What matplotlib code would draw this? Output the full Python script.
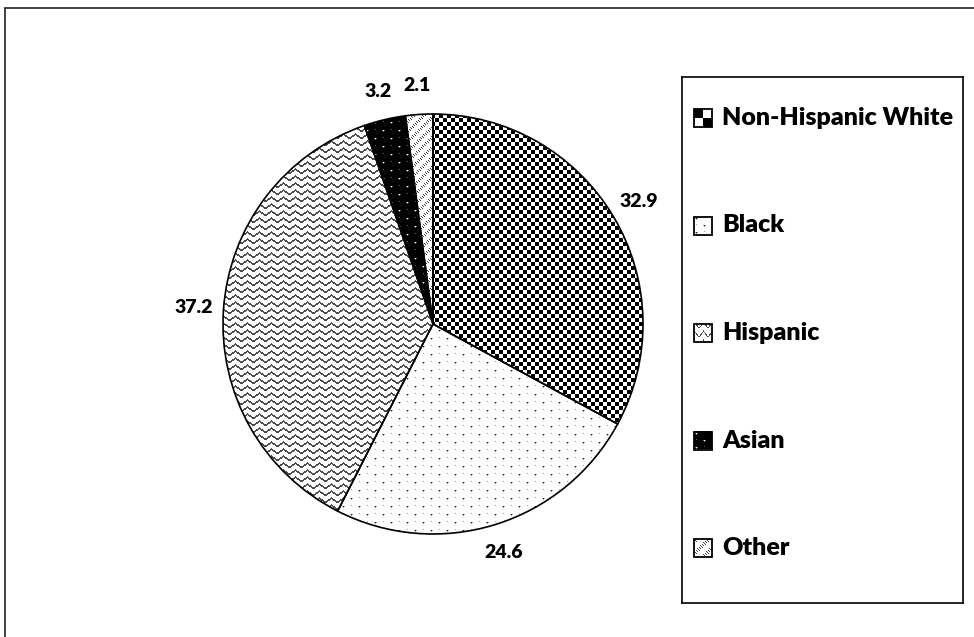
import numpy as np
import matplotlib.pyplot as plt
from matplotlib.patches import Rectangle

labels = ['Non-Hispanic White', 'Black', 'Hispanic', 'Asian', 'Other']
values = [32.9, 24.6, 37.2, 3.2, 2.1]
value_text = ['32.9', '24.6', '37.2', '3.2', '2.1']

plt.rcParams['font.family'] = ['Lato', 'DejaVu Sans']


# fill patterns, 1 = white, 0 = black, in pixel units
def checker(X, Y, c=4):
    return np.where(((X // c + Y // c) % 2) == 0, 0.0, 1.0)

def dots(X, Y, sx=16, sy=8, bg=1.0, fg=0.1, o=0):
    X = X - o
    Y = Y - o
    row = Y // sy
    off = (row % 2) * (sx // 2)
    dx = (X - off) % sx
    dy = Y % sy
    out = np.full(X.shape, bg)
    near = ((dx == 0) & ((dy == 1) | (dy == sy - 1))) | ((dy == 0) & ((dx == 1) | (dx == sx - 1)))
    out[near] = bg + (fg - bg) * 0.4
    out[(dx == 0) & (dy == 0)] = fg
    return out

def wavy(X, Y, py=7.0, px=12.0, amp=2.0, th=1.8):
    t = X / px
    tri = 2 * np.abs(2 * (t - np.floor(t + 0.5))) - 1
    d = (Y - amp * tri) % py
    out = np.ones(X.shape)
    out[d < th] = 0.3
    return out

def dashes(X, Y, p=3, seg=10, on=4):
    m = (((X - Y) % p) == 0) & (((X + Y) % seg) < on)
    out = np.ones(X.shape)
    out[m] = 0.25
    return out

def make_pattern(i, n):
    Y, X = np.mgrid[0:n, 0:n]
    if i == 0:
        return checker(X, Y, 4)
    if i == 1:
        return dots(X, Y, 16, 8)
    if i == 2:
        return wavy(X, Y)
    if i == 3:
        return dots(X, Y, 16, 8, bg=0.0, fg=1.0)
    return dashes(X, Y)

def make_marker(i, n=18):
    Y, X = np.mgrid[0:n, 0:n]
    if i == 0:
        return checker(X, Y, 9)
    if i == 1:
        return dots(X, Y, 16, 7, o=2)
    if i == 2:
        return wavy(X, Y, 9.0, 9.0, 3.0, 1.6)
    if i == 3:
        return dots(X, Y, 16, 7, bg=0.0, fg=1.0, o=2)
    return dashes(X, Y, 3, 12, 5)


W, H = 974, 637
R = 210
fig = plt.figure(figsize=(W / 100, H / 100), dpi=100)

# outer frame (runs off the right and bottom)
fig.add_artist(Rectangle((5 / W, -0.1), 1.2, 1.1 - 8 / H, transform=fig.transFigure,
                         fill=False, edgecolor='#333333', linewidth=1.3))

ax = fig.add_axes([181 / W, 61 / H, 504 / W, 504 / H])
wedges, texts = ax.pie(values, labels=value_text, startangle=90, counterclock=False,
                       radius=1, labeldistance=1.14, colors=['white'] * 5,
                       wedgeprops=dict(edgecolor='black', linewidth=1.2),
                       textprops=dict(fontsize=14, fontweight='heavy'))
for t in texts:
    t.set_ha('center')

for i, w in enumerate(wedges):
    w.set_facecolor('none')
    im = ax.imshow(make_pattern(i, 2 * R), extent=(-1, 1, -1, 1), origin='upper',
                   interpolation='nearest', cmap='gray', vmin=0, vmax=1, zorder=0.5)
    im.set_clip_path(w)

ax.set_xlim(-1.2, 1.2)
ax.set_ylim(-1.2, 1.2)
ax.set_aspect('equal')
ax.axis('off')

# legend box, in pixel coordinates
lx0, lx1, ly0, ly1 = 682, 963, 77, 603
lax = fig.add_axes([lx0 / W, (H - ly1) / H, (lx1 - lx0) / W, (ly1 - ly0) / H])
lax.set_xticks([])
lax.set_yticks([])
for s in lax.spines.values():
    s.set_linewidth(1.2)

for i, lab in enumerate(labels):
    yc = 41 + i * 107.5
    lax.imshow(make_marker(i), extent=(12, 30, yc + 9, yc - 9), origin='upper',
               interpolation='nearest', cmap='gray', vmin=0, vmax=1)
    lax.add_patch(Rectangle((12, yc - 9), 18, 18, fill=False, edgecolor='black', linewidth=1.3))
    lax.text(40, yc, lab, fontsize=18, fontweight='heavy', va='center', ha='left')

lax.set_xlim(0, lx1 - lx0)
lax.set_ylim(ly1 - ly0, 0)
lax.set_aspect('auto')

fig.savefig('out.png', dpi=100)
